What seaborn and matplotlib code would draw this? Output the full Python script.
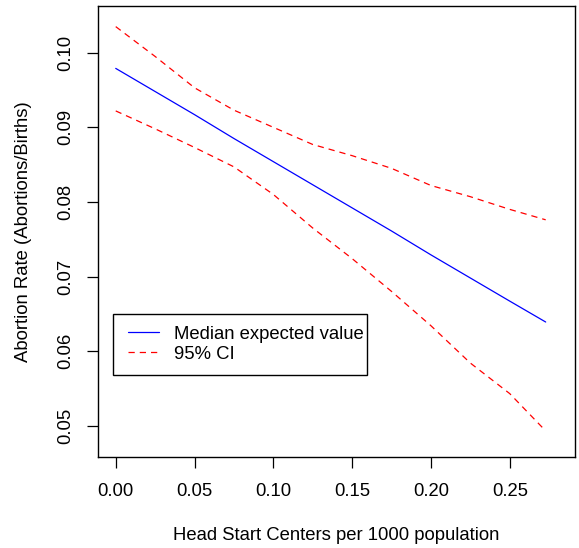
import matplotlib
matplotlib.use("Agg")
import matplotlib.pyplot as plt
from matplotlib.patches import Rectangle
import seaborn as sns
import pandas as pd
import numpy as np

# Data
head_start = [0.0, 0.025, 0.05, 0.075, 0.10, 0.125, 0.15, 0.175, 0.20, 0.225, 0.25, 0.2728]
median_ev = [0.0979, 0.0948, 0.0917, 0.0885, 0.0854, 0.0823, 0.0792, 0.0761, 0.0729, 0.0698, 0.0667, 0.0639]
ci_upper = [0.1035, 0.0995, 0.0953, 0.0923, 0.0900, 0.0877, 0.0862, 0.0845, 0.0822, 0.0807, 0.0790, 0.0776]
ci_lower = [0.0922, 0.0898, 0.0873, 0.0847, 0.0810, 0.0765, 0.0724, 0.0680, 0.0634, 0.0584, 0.0543, 0.0493]
x_ticks = [0.00, 0.05, 0.10, 0.15, 0.20, 0.25]
y_ticks = [0.05, 0.06, 0.07, 0.08, 0.09, 0.10]

sns.set_style("white")
plt.rcParams['font.family'] = ['Liberation Sans', 'DejaVu Sans']
plt.rcParams['text.color'] = 'black'
plt.rcParams['axes.labelcolor'] = 'black'
plt.rcParams['xtick.color'] = 'black'
plt.rcParams['ytick.color'] = 'black'

FS = 13.3

fig = plt.figure(figsize=(5.79, 5.48), dpi=100)
ax = fig.add_axes([0.1693, 0.166, 0.8238, 0.823])

df = pd.DataFrame({"x": head_start, "med": median_ev, "up": ci_upper, "lo": ci_lower})
sns.lineplot(data=df, x="x", y="med", ax=ax, color="blue", lw=0.9,
             label="Median expected value")
sns.lineplot(data=df, x="x", y="up", ax=ax, color="red", lw=0.9,
             label="95% CI")
sns.lineplot(data=df, x="x", y="lo", ax=ax, color="red", lw=0.9)
lines = ax.get_lines()
for ln in lines[1:3]:
    ln.set_linestyle((0, (5, 4)))

ax.set_xlim(-0.01123, 0.2914)
ax.set_ylim(0.0458, 0.10626)
ax.set_xticks(x_ticks)
ax.set_xticklabels([f"{v:.2f}" for v in x_ticks])
ax.set_yticks(y_ticks)
ax.set_yticklabels([f"{v:.2f}" for v in y_ticks], rotation=90, va="center")
ax.tick_params(axis="both", direction="out", length=8, width=0.9, color="black",
               labelsize=FS, pad=11, bottom=True, left=True, labelcolor="black")
ax.tick_params(axis="y", pad=9)
for s in ax.spines.values():
    s.set_visible(True)
    s.set_color("black")
    s.set_linewidth(1.0)

ax.set_xlabel("Head Start Centers per 1000 population", fontsize=FS, labelpad=19)
ax.set_ylabel("Abortion Rate (Abortions/Births)", fontsize=FS, labelpad=18)

handles, labels = ax.get_legend_handles_labels()
leg = ax.legend(handles[:2], labels[:2], loc="upper left",
                bbox_to_anchor=(0.0623, 0.291), borderaxespad=0,
                fontsize=FS, handlelength=1.68, handletextpad=0.81,
                labelspacing=0.17, borderpad=0.0, frameon=False)
leg.legend_handles[1].set_linestyle((0, (5, 4)))

# R-style legend box: wider padding on the left than on the right
fig.canvas.draw()
bb = leg.get_window_extent(fig.canvas.get_renderer())
cy = (bb.y0 + bb.y1) / 2
x0, x1 = bb.x0 - 15, bb.x1 + 3.5
y0, y1 = cy - 30.8, cy + 30.8
inv = ax.transAxes.inverted()
(ax0, ay0), (ax1, ay1) = inv.transform([(x0, y0), (x1, y1)])
ax.add_patch(Rectangle((ax0, ay0), ax1 - ax0, ay1 - ay0, transform=ax.transAxes,
                       facecolor="white", edgecolor="black", lw=1.0, zorder=4.5))
leg.set_zorder(5)

fig.savefig("out.png", dpi=100)
